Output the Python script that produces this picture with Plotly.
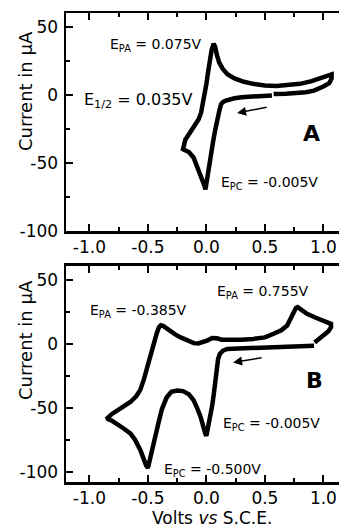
import plotly.graph_objects as go

# ---------------- data (Volts vs S.C.E., current in uA) ----------------
a_volts = [0.56, 0.45, 0.376, 0.30, 0.24, 0.20, 0.16, 0.14, 0.125, 0.11, 0.09, 0.075,
           0.06, 0.045, 0.033, 0.02, 0.01, 0.0, -0.008, -0.02, -0.05, -0.08, -0.11,
           -0.15, -0.19, -0.20, -0.18, -0.15, -0.12, -0.09, -0.066, -0.045, -0.03,
           -0.015, 0.0, 0.015, 0.03, 0.045, 0.062, 0.075, 0.09, 0.11, 0.14, 0.18,
           0.24, 0.32, 0.40, 0.50, 0.60, 0.70, 0.80, 0.90, 0.98, 1.04, 1.07, 1.07,
           1.05, 1.00, 0.92, 0.85, 0.775, 0.68, 0.575]
a_current = [-0.5, -0.9, -1.2, -1.8, -2.6, -3.3, -4.5, -5.5, -7, -12, -19, -26,
             -33, -41, -48, -55, -61, -67, -69.5, -66, -59, -51, -46,
             -42, -40, -40, -33, -29, -26, -22, -18, -13, -7,
             0, 8, 17, 26, 33, 37.5, 35, 29, 23.5, 19, 15,
             12, 9.5, 8, 6.8, 6.5, 7, 8, 10, 12.5, 14.5, 15, 12,
             8.5, 6, 3, 1.8, 1.2, 0.8, 0.5]

b_volts = [0.92, 0.80, 0.60, 0.40, 0.25, 0.177, 0.14, 0.115, 0.10, 0.09, 0.08, 0.07,
           0.062, 0.05, 0.034, 0.02, 0.008, 0.0, -0.01, -0.03, -0.05, -0.08, -0.11,
           -0.15, -0.20, -0.25, -0.30, -0.34, -0.38, -0.41, -0.44, -0.465, -0.485,
           -0.50, -0.515, -0.54, -0.565, -0.61, -0.65, -0.71, -0.76, -0.81, -0.84,
           -0.845, -0.81, -0.76, -0.70, -0.65, -0.60, -0.565, -0.535, -0.507, -0.48,
           -0.45, -0.425, -0.405, -0.39, -0.37, -0.33, -0.27, -0.22, -0.16, -0.108,
           -0.07, -0.03, 0.006, 0.05, 0.09, 0.13, 0.20, 0.30, 0.40, 0.50, 0.575,
           0.64, 0.69, 0.72, 0.746, 0.765, 0.78, 0.81, 0.86, 0.93, 1.00, 1.04,
           1.065, 1.065, 1.045, 1.017, 0.98, 0.946, 0.925]
b_current = [-1.5, -2.0, -2.5, -3.0, -3.5, -4, -5.5, -8, -12, -18, -25, -33,
             -40, -48, -57, -64, -70, -72, -70, -63, -57, -50, -44,
             -39.5, -37, -36.5, -37.5, -42, -51, -62, -74, -84, -93,
             -97, -95, -89, -83, -75, -70, -66, -62.5, -60, -59,
             -58, -55, -52, -48.5, -45.5, -41, -36, -28, -18, -9,
             0, 8, 13, 14.5, 14, 11, 7.5, 5, 2.5, 0.5,
             0.3, 1, 2.5, 4.5, 4.3, 3.2, 3, 3.2, 3.8, 5, 7.8,
             10.5, 14.3, 19.5, 24.7, 28, 28.6, 26.5, 23.4, 20.5, 18.2, 16.5,
             15.6, 13, 10, 7.8, 4.5, 2.6, 1]

x_tickvals = [-1.0, -0.5, 0.0, 0.5, 1.0]
x_ticktext = ["-1.0", "-0.5", "0.0", "0.5", "1.0"]
y_tickvals = [-100, -50, 0, 50]
y_ticktext = ["-100", "-50", "0", "50"]

FONT = "DejaVu Sans"
W, H = 339, 529
ML, MR, MT, MB = 66, 0, 13, 47
PH = H - MT - MB          # 469
PW = W - ML - MR          # 273

def py(ypix):              # pixel row -> paper y
    return (H - MB - ypix) / PH

def px(xpix):              # pixel column -> paper x
    return (xpix - ML) / PW

dom_a = [py(231), 1.0]
dom_b = [0.0, py(265.7)]
x_range = [-1.2, -1.2 + PW / 117.0]
ya_range = [-100, 60]
yb_range = [-108, 61]

fig = go.Figure()
fig.add_trace(go.Scatter(x=a_volts, y=a_current, mode="lines",
                         line=dict(color="black", width=4.5),
                         xaxis="x", yaxis="y", showlegend=False, hoverinfo="skip"))
fig.add_trace(go.Scatter(x=b_volts, y=b_current, mode="lines",
                         line=dict(color="black", width=4.5),
                         xaxis="x2", yaxis="y2", showlegend=False, hoverinfo="skip"))

tickfont = dict(family=FONT, size=17, color="black")
common_x = dict(range=x_range, tickvals=x_tickvals, ticktext=x_ticktext,
                ticks="inside", ticklen=7, tickwidth=2, tickcolor="black",
                showline=True, linewidth=2.5, linecolor="black", mirror="ticks",
                showgrid=False, zeroline=False, tickfont=tickfont,
                ticklabelstandoff=-1, ticklabeloverflow="allow",
                minor=dict(ticks="inside", dtick=0.25, tick0=0, ticklen=4,
                           tickwidth=2, tickcolor="black", showgrid=False))
common_y = dict(tickvals=y_tickvals, ticktext=y_ticktext,
                ticks="inside", ticklen=7, tickwidth=2, tickcolor="black",
                showline=True, linewidth=2.5, linecolor="black", mirror=False,
                showgrid=False, zeroline=False, tickfont=tickfont,
                ticklabelstandoff=2, ticklabeloverflow="allow",
                minor=dict(ticks="inside", dtick=25, tick0=0, ticklen=4,
                           tickwidth=2, tickcolor="black", showgrid=False))
right_y = dict(tickvals=y_tickvals, ticks="inside", ticklen=6, tickwidth=2,
               tickcolor="black", showline=False, showgrid=False, zeroline=False,
               showticklabels=False, side="right",
               minor=dict(ticks="inside", dtick=25, tick0=0, ticklen=4,
                          tickwidth=2, tickcolor="black", showgrid=False))

fig.update_layout(
    width=W, height=H,
    margin=dict(l=ML, r=MR, t=MT, b=MB, pad=0),
    paper_bgcolor="white", plot_bgcolor="white",
    font=dict(family=FONT, color="black"),
    hovermode=False,
    xaxis=dict(domain=[0, 1], anchor="y", **common_x),
    yaxis=dict(domain=dom_a, anchor="x", range=ya_range, **common_y),
    xaxis2=dict(domain=[0, 1], anchor="y2", **common_x),
    yaxis2=dict(domain=dom_b, anchor="x2", range=yb_range, **common_y),
    yaxis3=dict(overlaying="y", anchor="x", range=ya_range, **right_y),
    yaxis4=dict(overlaying="y2", anchor="x2", range=yb_range, **right_y),
)

def txt(x, y, text, size, xref, yref, xanchor="left", bold=False):
    return dict(x=x, y=y, xref=xref, yref=yref, text=("<b>%s</b>" % text) if bold else text,
                showarrow=False, xanchor=xanchor, yanchor="middle",
                font=dict(family=FONT, size=size, color="black"))

ann = [
    txt(-0.841, 36.3, "E<sub>PA</sub> = 0.075V", 14, "x", "y"),
    txt(-1.063, -3.9, "E<sub>1/2</sub> = 0.035V", 16, "x", "y"),
    txt(0.901, -28.8, "A", 22, "x", "y", xanchor="center", bold=True),
    txt(0.108, -64.6, "E<sub>PC</sub> = -0.005V", 14, "x", "y"),
    txt(-1.009, 26.0, "E<sub>PA</sub> = -0.385V", 14, "x2", "y2"),
    txt(0.074, 40.1, "E<sub>PA</sub> = 0.755V", 14, "x2", "y2"),
    txt(0.92, -29.0, "B", 22, "x2", "y2", xanchor="center", bold=True),
    txt(0.125, -62.3, "E<sub>PC</sub> = -0.005V", 14, "x2", "y2"),
    txt(-0.382, -99.0, "E<sub>PC</sub> = -0.500V", 14, "x2", "y2"),
    # arrows showing scan direction
    dict(x=0.262, y=-13.4, ax=0.527, ay=-9.0, xref="x", yref="y", axref="x", ayref="y",
         text="", showarrow=True, arrowhead=2, arrowsize=1.2, arrowwidth=1.5,
         arrowcolor="black"),
    dict(x=0.228, y=-14.6, ax=0.484, ay=-10.7, xref="x2", yref="y2", axref="x2", ayref="y2",
         text="", showarrow=True, arrowhead=2, arrowsize=1.2, arrowwidth=1.5,
         arrowcolor="black"),
    # axis titles
    dict(x=px(26), y=py(91), xref="paper", yref="paper", text="Current in \u03bcA",
         textangle=-90, showarrow=False, xanchor="center", yanchor="middle",
         font=dict(family=FONT, size=18, color="black")),
    dict(x=px(26), y=py(340), xref="paper", yref="paper", text="Current in \u03bcA",
         textangle=-90, showarrow=False, xanchor="center", yanchor="middle",
         font=dict(family=FONT, size=18, color="black")),
    dict(x=px(211.7), y=py(518), xref="paper", yref="paper",
         text="Volts <i>vs</i> S.C.E.", showarrow=False,
         xanchor="center", yanchor="middle",
         font=dict(family=FONT, size=17, color="black")),
]
fig.update_layout(annotations=ann)

fig.write_html("out.html",
               config={"displayModeBar": False, "staticPlot": True},
               post_script="document.body.style.margin='0';document.body.style.overflow='hidden';")
